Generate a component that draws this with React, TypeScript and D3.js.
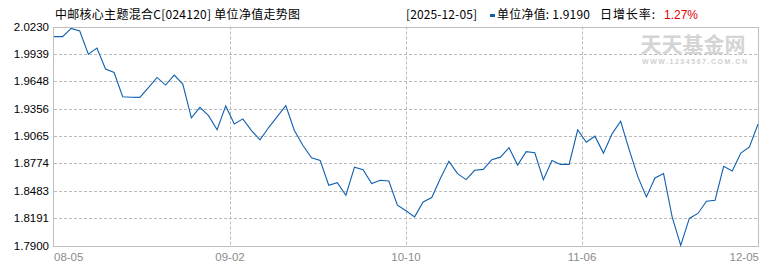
import React from "react";
import * as d3 from "d3";

const title = "中邮核心主题混合C[024120] 单位净值走势图";
const latestDate = "[2025-12-05]";
const latestNav = "1.9190";
const dailyGrowth = "1.27%";

const xTickLabels = ["08-05", "09-02", "10-10", "11-06", "12-05"];
const yTickLabels = ["2.0230", "1.9939", "1.9648", "1.9356", "1.9065", "1.8774", "1.8483", "1.8191", "1.7900"];

const navValues = [
  2.0122, 2.0122, 2.021, 2.0182, 1.9935, 2.0, 1.9777, 1.9741, 1.9483, 1.9478,
  1.9476, 1.9579, 1.9688, 1.9607, 1.9713, 1.9618, 1.9258, 1.937, 1.9282, 1.9131,
  1.9385, 1.9194, 1.9247, 1.9123, 1.9025, 1.9155, 1.9271, 1.9388, 1.9123, 1.8964,
  1.8834, 1.8805, 1.8541, 1.8569, 1.8435, 1.8734, 1.8707, 1.8559, 1.8594, 1.8586,
  1.8329, 1.8269, 1.8205, 1.8364, 1.841, 1.8612, 1.8795, 1.8665, 1.8601, 1.87,
  1.871, 1.8813, 1.884, 1.894, 1.8756, 1.8898, 1.8887, 1.8601, 1.8805, 1.8763,
  1.8763, 1.9131, 1.8999, 1.9063, 1.8883, 1.9088, 1.9222, 1.8917, 1.8633, 1.8417,
  1.8618, 1.8665, 1.8205, 1.79, 1.8188, 1.8241, 1.8371, 1.8382, 1.8742, 1.8692,
  1.8883, 1.8949, 1.919,
];

const W = 770;
const H = 270;
const L = 54;
const R = 758;
const T = 26.5;
const B = 245.5;

const cjk = "'Noto Sans CJK SC', 'Noto Sans', sans-serif";
const num = "'Liberation Sans', Arial, sans-serif";

export default function App() {
  const n = navValues.length;
  const x = d3.scaleLinear().domain([0, n - 1]).range([L, R]);
  const y = d3.scaleLinear().domain([1.79, 2.023]).range([B, T]);
  const line = d3
    .line<number>()
    .x((_, i) => x(i))
    .y((d) => y(d));

  const xTickPos = xTickLabels.map((_, k) => x(((n - 1) * k) / (xTickLabels.length - 1)));

  return (
    <svg
      width={W}
      height={H}
      style={{ position: "absolute", left: 0, top: 0, background: "#fff" }}
    >
      <rect x={0} y={0} width={W} height={H} fill="#fff" />
      {yTickLabels.map((t, i) => {
        const yy = Math.round(y(+t)) + 0.5;
        const edge = i === 0 || i === yTickLabels.length - 1;
        return edge ? null : (
          <line key={"h" + i} x1={L} x2={R} y1={yy} y2={yy} stroke="#bbbbbb" strokeDasharray="3,2" />
        );
      })}
      {xTickPos.map((p, i) =>
        i === 0 || i === xTickPos.length - 1 ? null : (
          <line key={"v" + i} x1={Math.round(p) + 0.5} x2={Math.round(p) + 0.5} y1={T} y2={B} stroke="#bbbbbb" strokeDasharray="3,2" />
        )
      )}
      <rect
        x={L - 0.5}
        y={Math.round(T) + 0.5}
        width={R - L + 1}
        height={Math.round(B) - Math.round(T)}
        fill="none"
        stroke="#c0c0c0"
      />
      <text x={693} y={52} textAnchor="middle" fontFamily={cjk} fontSize={21} fontWeight={700} fill="#d4d4d4">
        天天基金网
      </text>
      <text x={642} y={64} fontFamily={num} fontSize={7} fontWeight={700} fill="#d0d0d0" textLength={105} lengthAdjust="spacing">
        WWW.1234567.COM.CN
      </text>
      <path d={line(navValues) || ""} fill="none" stroke="#1060b0" strokeWidth={1.1} />
      {yTickLabels.map((t, i) => (
        <text key={"yl" + i} x={49} y={y(+t) + 4} textAnchor="end" fontFamily={num} fontSize={11.5} fill="#000">
          {t}
        </text>
      ))}
      {xTickLabels.map((t, i) => (
        <text
          key={"xl" + i}
          x={i === 0 ? L : i === xTickLabels.length - 1 ? R + 1 : xTickPos[i]}
          y={261}
          textAnchor={i === 0 ? "start" : i === xTickLabels.length - 1 ? "end" : "middle"}
          fontFamily={num}
          fontSize={11.5}
          fill="#8c8c8c"
        >
          {t}
        </text>
      ))}
      <text x={55} y={19} fontFamily={cjk} fontSize={12} fill="#000" textLength={245} lengthAdjust="spacing">
        {title}
      </text>
      <text x={406} y={19} fontFamily={cjk} fontSize={12} fill="#000" textLength={71} lengthAdjust="spacing">
        {latestDate}
      </text>
      <rect x={490} y={14} width={5} height={3} fill="#1060b0" />
      <text x={497} y={19} fontFamily={cjk} fontSize={12} fill="#000" textLength={93} lengthAdjust="spacing">
        {"单位净值: " + latestNav}
      </text>
      <text x={600} y={19} fontFamily={cjk} fontSize={12} fill="#000" textLength={55} lengthAdjust="spacing">
        {"日增长率: "}
      </text>
      <text x={664} y={19} fontFamily={num} fontSize={12} fill="#e00000">
        {dailyGrowth}
      </text>
    </svg>
  );
}
